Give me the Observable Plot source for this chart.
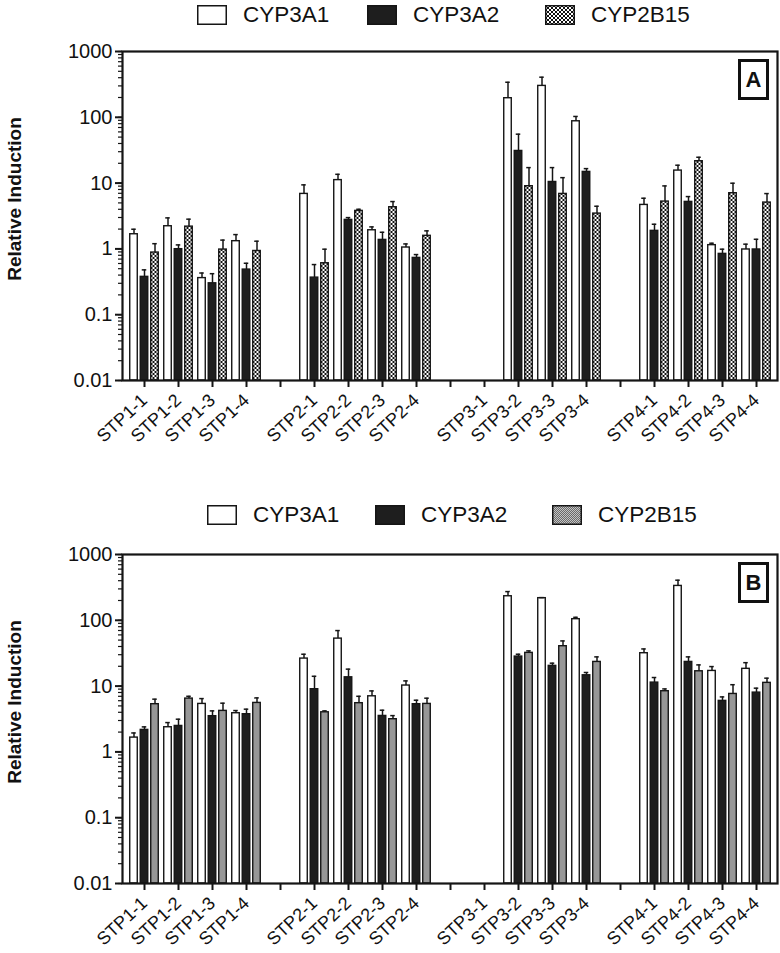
<!DOCTYPE html>
<html><head><meta charset="utf-8">
<script src="https://cdn.jsdelivr.net/npm/d3@7"></script>
<script src="https://cdn.jsdelivr.net/npm/@observablehq/plot@0.6"></script>
<style>
body{margin:0;background:#fff;font-family:"Liberation Sans",Arial,sans-serif;}
#wrap{position:relative;width:780px;height:953px;overflow:hidden;background:#fff}
.legend{position:absolute;left:0;width:780px;height:36px}
.item{position:absolute;top:0;height:30px;display:flex;align-items:center;font-size:22.5px;color:#111;white-space:nowrap}
.item svg{margin-right:16px}
.panel{position:absolute;left:0}
.tag{position:absolute;box-sizing:border-box;border:3.5px solid #111;width:31px;height:41px;font:bold 22px "Liberation Sans",Arial,sans-serif;display:flex;align-items:center;justify-content:center;color:#111;background:#fff}
</style></head>
<body>
<svg width="0" height="0" style="position:absolute">
  <defs>
    <pattern id="checkA" width="4" height="4" patternUnits="userSpaceOnUse">
      <rect width="4" height="4" fill="#fff"/>
      <rect width="2" height="2" fill="#111"/>
      <rect x="2" y="2" width="2" height="2" fill="#111"/>
    </pattern>
    <pattern id="checkB" width="2" height="2" patternUnits="userSpaceOnUse">
      <rect width="2" height="2" fill="#c4c4c4"/>
      <rect width="1" height="1" fill="#6a6a6a"/>
      <rect x="1" y="1" width="1" height="1" fill="#6a6a6a"/>
    </pattern>
  </defs>
</svg>
<div id="wrap"></div>
<script>
// ---------- data ----------
const series = ["CYP3A1", "CYP3A2", "CYP2B15"];
const labels = ["STP1-1","STP1-2","STP1-3","STP1-4","STP2-1","STP2-2","STP2-3","STP2-4",
                "STP3-1","STP3-2","STP3-3","STP3-4","STP4-1","STP4-2","STP4-3","STP4-4"];
const slots = ["STP1-1","STP1-2","STP1-3","STP1-4","gap1","STP2-1","STP2-2","STP2-3","STP2-4","gap2",
               "STP3-1","STP3-2","STP3-3","STP3-4","gap3","STP4-1","STP4-2","STP4-3","STP4-4"];
const yTicks = [0.01, 0.1, 1, 10, 100, 1000];
const yLabel = "Relative Induction";

// Panel A
const a3A1    = [1.67, 2.21, 0.36, 1.31, 6.85, 11.1, 1.92, 1.05, null, 195, 300, 87, 4.66, 15.5, 1.14, 0.98];
const a3A1Err = [1.99, 2.96, 0.43, 1.65, 9.4, 13.6, 2.16, 1.19, null, 341, 407, 103, 5.89, 18.7, 1.22, 1.18];
const a3A2    = [0.376, 0.99, 0.30, 0.485, 0.366, 2.76, 1.37, 0.73, null, 30.8, 10.4, 14.8, 1.88, 5.18, 0.84, 0.98];
const a3A2Err = [0.48, 1.15, 0.42, 0.605, 0.578, 2.99, 1.79, 0.82, null, 55.4, 17.2, 16.6, 2.37, 6.24, 0.99, 1.40];
const a2B15    = [0.88, 2.18, 0.977, 0.93, 0.605, 3.78, 4.3, 1.58, null, 8.97, 6.85, 3.44, 5.24, 21.5, 7.02, 5.06];
const a2B15Err = [1.2, 2.83, 1.36, 1.31, 0.99, 4.0, 5.24, 1.88, null, 17.2, 12.1, 4.45, 9.06, 24.7, 9.96, 6.93];

// Panel B
const b3A1    = [1.65, 2.37, 5.36, 3.87, 26.2, 52.7, 7.0, 10.2, null, 232, 217, 104, 31.6, 333, 17.0, 18.3];
const b3A1Err = [1.94, 2.79, 6.46, 4.25, 30.5, 69.8, 8.45, 12.0, null, 273, 221, 111, 36.7, 407, 19.8, 22.7];
const b3A2    = [2.16, 2.48, 3.49, 3.74, 8.97, 13.6, 3.52, 5.31, null, 28.1, 20.3, 14.6, 11.3, 23.3, 5.96, 7.96];
const b3A2Err = [2.4, 3.14, 4.2, 4.46, 14.1, 18.1, 4.3, 6.1, null, 30.5, 22.3, 16.1, 13.5, 27.8, 6.85, 9.3];
const b2B15    = [5.31, 6.46, 4.2, 5.55, 4.0, 5.5, 3.14, 5.36, null, 32, 40.4, 23.3, 8.36, 16.8, 7.6, 11.2];
const b2B15Err = [6.33, 7.0, 5.5, 6.62, 4.2, 7.0, 3.56, 6.55, null, 34.3, 48.6, 27.8, 9.06, 21, 10.5, 13.2];

const fillsA = ["#ffffff", "#1e1e1e", "url(#checkA)"];
const fillsB = ["#ffffff", "#1e1e1e", "url(#checkB)"];

// ---------- build ----------
function rowsOf(means, errs) {
  const out = [];
  labels.forEach((cat, i) => {
    series.forEach((s, j) => {
      const v = means[j][i];
      if (v != null) out.push({cat, series: s, value: v, err: errs[j][i]});
    });
  });
  return out;
}
const rowsA = rowsOf([a3A1, a3A2, a2B15], [a3A1Err, a3A2Err, a2B15Err]);
const rowsB = rowsOf([b3A1, b3A2, b2B15], [b3A1Err, b3A2Err, b2B15Err]);
const minorTicks = d3.scaleLog().domain([yTicks[0], yTicks[yTicks.length - 1]]).ticks();

const W = 780, ML = 122, MR = 3;
const band = (W - ML - MR) / slots.length;   // width of one category slot
const barW = 8, capW = 5;
const offsets = [-10.5, 0, 10.5];            // per-series shift within a slot

function chart(rows, fills, height, mt, mb) {
  const ink = "#151515";
  const marks = [];
  series.forEach((s, j) => {
    const sub = rows.filter(d => d.series === s);
    marks.push(
      Plot.barY(sub, {x: "cat", y1: yTicks[0], y2: "value", dx: offsets[j],
        insetLeft: (band - barW) / 2, insetRight: (band - barW) / 2,
        fill: fills[j], stroke: ink, strokeWidth: 1.4}),
      Plot.ruleX(sub, {x: "cat", y1: "value", y2: "err", dx: offsets[j], stroke: ink, strokeWidth: 1.5}),
      Plot.tickY(sub, {x: "cat", y: "err", dx: offsets[j],
        insetLeft: (band - capW) / 2, insetRight: (band - capW) / 2, stroke: ink, strokeWidth: 1.5})
    );
  });
  return Plot.plot({
    width: W, height,
    marginLeft: ML, marginRight: MR, marginTop: mt, marginBottom: mb,
    style: {fontFamily: "Liberation Sans, Arial, sans-serif", color: "#111", background: "white", overflow: "visible"},
    x: {domain: slots, padding: 0, axis: null},
    y: {type: "log", domain: [yTicks[0], yTicks[yTicks.length - 1]], axis: null},
    marks: [
      ...marks,
      Plot.frame({stroke: ink, strokeWidth: 2.2}),
      Plot.axisY({ticks: minorTicks, tickFormat: () => "", tickSize: 4, strokeWidth: 1.2, stroke: ink}),
      Plot.axisY({ticks: yTicks, tickFormat: d => String(d), tickSize: 7, tickPadding: 3, fontSize: 20, strokeWidth: 2, stroke: ink, fill: "#111", label: null}),
      Plot.axisX({tickSize: 7, tickPadding: 10, tickRotate: -43, fontSize: 18, strokeWidth: 2, stroke: ink, fill: "#111", label: null,
                  tickFormat: d => d.startsWith("gap") ? "" : d}),
      Plot.text([yLabel], {frameAnchor: "left", textAnchor: "middle", rotate: -90, dx: -108, dy: -17, fontSize: 19, fontWeight: "bold", fill: "#111"})
    ]
  });
}

function legend(top, positions, fills) {
  const div = document.createElement("div");
  div.className = "legend";
  div.style.top = top + "px";
  series.forEach((s, i) => {
    const it = document.createElement("div");
    it.className = "item";
    it.style.left = positions[i] + "px";
    it.innerHTML = `<svg width="30" height="20"><rect x="0.75" y="0.75" width="28.5" height="18.5" fill="${fills[i]}" stroke="#151515" stroke-width="1.5"/></svg><span>${s}</span>`;
    div.appendChild(it);
  });
  return div;
}

const wrap = document.getElementById("wrap");
wrap.appendChild(legend(0, [197, 367, 545], fillsA));
const cA = chart(rowsA, fillsA, 460, 16, 115);
cA.classList.add("panel"); cA.style.top = "35px";
wrap.appendChild(cA);
wrap.appendChild(legend(500, [207, 375, 552], fillsB));
const cB = chart(rowsB, fillsB, 418, 19, 70);
cB.classList.add("panel"); cB.style.top = "535px";
wrap.appendChild(cB);

const tagA = document.createElement("div"); tagA.className = "tag"; tagA.textContent = "A";
tagA.style.left = "738px"; tagA.style.top = "59px"; wrap.appendChild(tagA);
const tagB = document.createElement("div"); tagB.className = "tag"; tagB.textContent = "B";
tagB.style.left = "738px"; tagB.style.top = "562px"; wrap.appendChild(tagB);
</script>
</body></html>
